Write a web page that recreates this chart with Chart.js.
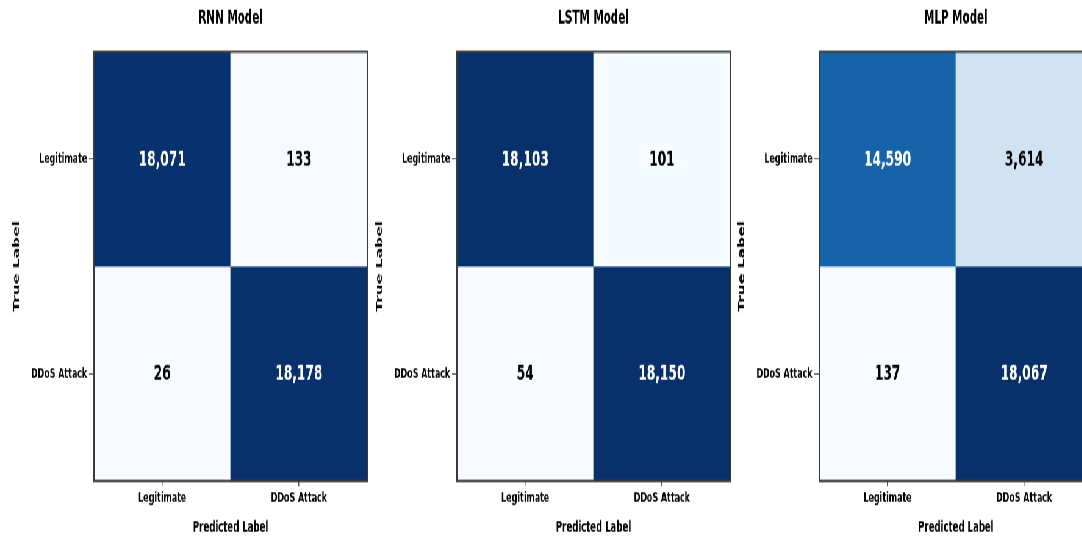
<!DOCTYPE html>
<html>
<head>
<meta charset="utf-8">
<title>Confusion matrices</title>
<script src="https://cdn.jsdelivr.net/npm/chart.js@4.4.1/dist/chart.umd.min.js"></script>
<style>
  html, body { margin: 0; padding: 0; background: #fff; overflow: hidden; }
  /* the whole figure is drawn wide and then squeezed, like the original image */
  #stage { position: absolute; left: 0; top: 0; width: 1774px; height: 504px; transform: scale(0.61, 1.07); transform-origin: 0 0; }
  .panel { position: absolute; top: 0; width: 612px; height: 504px; }
</style>
</head>
<body>
<div id="stage">
  <div class="panel" style="left:0px"><canvas id="chart-rnn"></canvas></div>
  <div class="panel" style="left:595px"><canvas id="chart-lstm"></canvas></div>
  <div class="panel" style="left:1189px"><canvas id="chart-mlp"></canvas></div>
</div>
<script>
const classLabels = ["Legitimate", "DDoS Attack"];
const modelNames = ["RNN Model", "LSTM Model", "MLP Model"];

// rows = true label, columns = predicted label
const rnnMatrix = [[18071, 133], [26, 18178]];
const lstmMatrix = [[18103, 101], [54, 18150]];
const mlpMatrix = [[14590, 3614], [137, 18067]];

const BLUES = ["#f7fbff", "#deebf7", "#c6dbef", "#9ecae1", "#6baed6", "#4292c6", "#2171b5", "#08519c", "#08306b"];

Chart.defaults.font.family = "'DejaVu Sans', sans-serif";
Chart.defaults.font.weight = "bold";
Chart.defaults.color = "#000";

function hexToRgb(hex) {
  const n = parseInt(hex.slice(1), 16);
  return [(n >> 16) & 255, (n >> 8) & 255, n & 255];
}

function bluesColor(t) {
  t = Math.min(1, Math.max(0, t));
  const pos = t * (BLUES.length - 1);
  const i = Math.min(BLUES.length - 2, Math.floor(pos));
  const f = pos - i;
  const a = hexToRgb(BLUES[i]);
  const b = hexToRgb(BLUES[i + 1]);
  const c = a.map((v, k) => Math.round(v + (b[k] - v) * f));
  return `rgb(${c[0]},${c[1]},${c[2]})`;
}

const cellPlugin = {
  id: "cellValues",
  afterDatasetsDraw(chart) {
    const { ctx, chartArea } = chart;
    ctx.save();
    ctx.font = "bold 20px 'DejaVu Sans'";
    ctx.textAlign = "center";
    ctx.textBaseline = "middle";
    chart.data.datasets.forEach((ds, i) => {
      chart.getDatasetMeta(i).data.forEach((bar, j) => {
        const { x, y } = bar.getCenterPoint();
        ctx.fillStyle = ds.textColors[j];
        ctx.fillText(ds.counts[j].toLocaleString("en-US"), x, y + 1);
      });
    });
    // box around the matrix
    ctx.strokeStyle = "#3a3a3a";
    ctx.lineWidth = 2;
    ctx.strokeRect(chartArea.left, chartArea.top, chartArea.right - chartArea.left, chartArea.bottom - chartArea.top);
    ctx.restore();
  },
};

function buildMatrixChart(canvasId, title, matrix) {
  const flat = matrix.flat();
  const vmin = Math.min(...flat);
  const vmax = Math.max(...flat);
  const thresh = vmax / 2;

  const datasets = matrix.map((row, r) => ({
    label: classLabels[r],
    data: row.map(() => [classLabels.length - 1 - r, classLabels.length - r]),
    counts: row,
    backgroundColor: row.map((v) => bluesColor((v - vmin) / (vmax - vmin))),
    textColors: row.map((v) => (v > thresh ? "#ffffff" : "#000000")),
    borderWidth: 0,
    grouped: false,
    barPercentage: 1,
    categoryPercentage: 1,
  }));

  return new Chart(document.getElementById(canvasId), {
    type: "bar",
    data: { labels: classLabels, datasets },
    plugins: [cellPlugin],
    options: {
      responsive: true,
      maintainAspectRatio: false,
      animation: false,
      layout: { padding: { left: 0, right: 10, top: 0, bottom: 0 } },
      plugins: {
        legend: { display: false },
        tooltip: { enabled: false },
        title: {
          display: true,
          text: title,
          fullSize: false,
          font: { size: 17, weight: "bold" },
          color: "#000",
          padding: { top: 7, bottom: 21 },
        },
      },
      scales: {
        x: {
          type: "category",
          offset: true,
          border: { display: false },
          grid: { display: true, offset: false, drawOnChartArea: false, drawTicks: true, tickLength: 5, color: "#555", lineWidth: 1.5 },
          ticks: { font: { size: 13 }, padding: 3, maxRotation: 0, autoSkip: false },
          title: { display: true, text: "Predicted Label", font: { size: 14 }, padding: { top: 0, bottom: 2 } },
          afterFit: (axis) => { axis.height = 54.5; },
        },
        y: {
          type: "linear",
          min: 0,
          max: classLabels.length,
          border: { display: false },
          grid: { display: true, drawOnChartArea: false, drawTicks: true, tickLength: 8, color: "#555", lineWidth: 1 },
          afterBuildTicks: (axis) => {
            axis.ticks = classLabels.map((_, r) => ({ value: classLabels.length - r - 0.5 }));
          },
          ticks: {
            font: { size: 13 },
            padding: 3,
            callback: (value) => classLabels[classLabels.length - 1 - Math.floor(value)],
          },
          title: { display: true, text: "True Label", font: { size: 14.5 }, padding: { top: 19, bottom: 0 } },
          afterFit: (axis) => { axis.width = 154; },
        },
      },
    },
  });
}

buildMatrixChart("chart-rnn", modelNames[0], rnnMatrix);
buildMatrixChart("chart-lstm", modelNames[1], lstmMatrix);
buildMatrixChart("chart-mlp", modelNames[2], mlpMatrix);
</script>
</body>
</html>
